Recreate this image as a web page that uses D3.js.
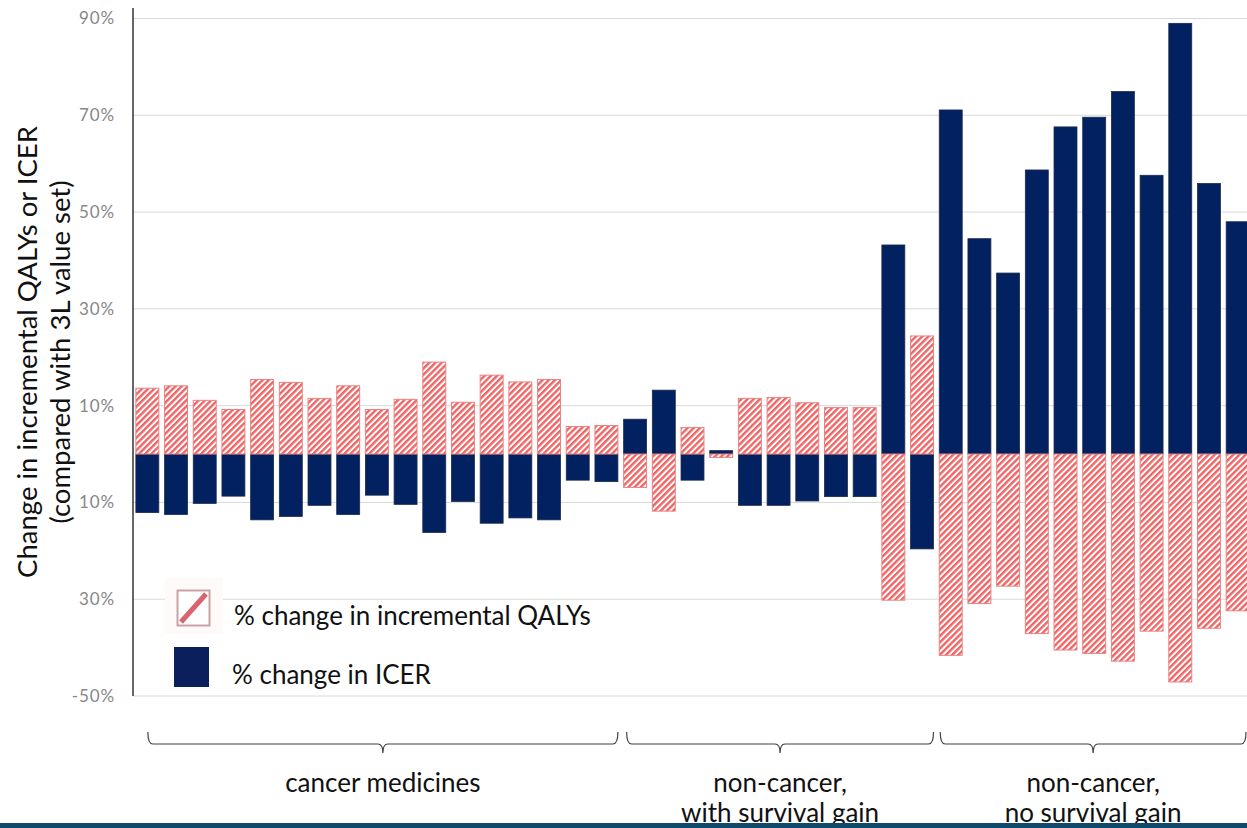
<!DOCTYPE html>
<html><head><meta charset="utf-8">
<script src="https://cdn.jsdelivr.net/npm/d3@7"></script>
<style>html,body{margin:0;padding:0;background:#fff;overflow:hidden;} svg{display:block;}</style>
</head><body>
<svg id="chart" width="1247" height="828"></svg>
<script>
// ---------- data ----------
const medicines = ["m01","m02","m03","m04","m05","m06","m07","m08","m09","m10","m11","m12","m13","m14","m15","m16","m17",
  "m18","m19","m20","m21","m22","m23","m24","m25","m26","m27","m28",
  "m29","m30","m31","m32","m33","m34","m35","m36","m37","m38","m39"];
const qalyChange = [13.6,14.1,11.1,9.2,15.4,14.8,11.5,14.1,9.2,11.3,19.0,10.7,16.3,14.9,15.4,5.7,5.9,
  -6.9,-11.8,5.5,-0.7,11.5,11.7,10.6,9.6,9.6,-30.2,24.4,
  -41.6,-30.9,-27.3,-37.1,-40.5,-41.2,-42.8,-36.6,-47.1,-36.0,-32.4];
const icerChange = [-12.1,-12.5,-10.2,-8.7,-13.6,-12.9,-10.6,-12.5,-8.5,-10.4,-16.2,-9.8,-14.3,-13.2,-13.6,-5.4,-5.7,
  7.2,13.2,-5.4,0.7,-10.6,-10.6,-9.7,-8.8,-8.8,43.2,-19.6,
  71.1,44.5,37.4,58.7,67.6,69.6,74.9,57.6,89.0,55.9,48.0];
const groupNames = [["cancer medicines"],["non-cancer,","with survival gain"],["non-cancer,","no survival gain"]];
const groupFirst = ["m01","m18","m29"];
const groupLast  = ["m17","m28","m39"];
const yTicks = [90,70,50,30,10,-10,-30,-50];
const yTickLabels = ["90%","70%","50%","30%","10%","10%","30%","-50%"];
const legendLabels = ["% change in incremental QALYs","% change in ICER"];
const yTitle = ["Change in incremental QALYs or ICER","(compared with 3L value set)"];

// ---------- layout ----------
const W = 1247, H = 828;
const left = 133, plotTop = 18.5, plotBottom = 696;
const navy = "#022160", salmon = "#ef6464";
const svg = d3.select("#chart");
const fontFam = "Lato, 'Open Sans', sans-serif";

const x = d3.scaleBand().domain(medicines).range([left, 1252]).paddingInner(0.2).paddingOuter(0.1);
const y = d3.scaleLinear().domain([-50, 90]).range([plotBottom, plotTop]);

// pattern
const defs = svg.append("defs");
const P = 4.4;
const pat = defs.append("pattern").attr("id","hatch").attr("patternUnits","userSpaceOnUse")
  .attr("width",P).attr("height",P).attr("patternTransform","rotate(45)");
pat.append("rect").attr("width",P).attr("height",P).attr("fill","#fff");
pat.append("line").attr("x1",1.2).attr("y1",0).attr("x2",1.2).attr("y2",P)
  .attr("stroke",salmon).attr("stroke-width",2.4);

// gridlines
svg.append("g").selectAll("line").data(yTicks).join("line")
  .attr("x1",left).attr("x2",W).attr("y1",d=>y(d)).attr("y2",d=>y(d))
  .attr("stroke","#d9d9d9").attr("stroke-width",1);

// y axis labels
const yAxis = d3.axisLeft(y).tickValues(yTicks).tickSize(0).tickPadding(18)
  .tickFormat((d,i)=>yTickLabels[i]);
const ga = svg.append("g").attr("transform",`translate(${left},0)`).call(yAxis);
ga.select(".domain").remove();
ga.selectAll("text").attr("fill","#878787").attr("font-size",17).attr("letter-spacing",0.9)
  .attr("font-family",fontFam);

// bars
const rows = medicines.map((m,i)=>({m, q:qalyChange[i], c:icerChange[i]}));
const gb = svg.append("g");
gb.selectAll("rect.icer").data(rows).join("rect").attr("class","icer")
  .attr("x",d=>x(d.m)).attr("width",x.bandwidth())
  .attr("y",d=>y(Math.max(0,d.c))).attr("height",d=>Math.abs(y(d.c)-y(0)))
  .attr("fill",navy).attr("stroke","#1c2a4e").attr("stroke-width",0.8);
gb.selectAll("rect.qaly").data(rows).join("rect").attr("class","qaly")
  .attr("x",d=>x(d.m)).attr("width",x.bandwidth())
  .attr("y",d=>y(Math.max(0,d.q))).attr("height",d=>Math.abs(y(d.q)-y(0)))
  .attr("fill","url(#hatch)").attr("stroke","#e98383").attr("stroke-width",1);

// axis line
svg.append("line").attr("x1",left).attr("x2",left).attr("y1",8).attr("y2",plotBottom)
  .attr("stroke","#000").attr("stroke-width",1.2);

// y title
const gt = svg.append("g").attr("transform","translate(0,352) rotate(-90)");
gt.selectAll("text").data(yTitle).join("text")
  .attr("x",0).attr("y",(d,i)=>37+i*33).attr("text-anchor","middle")
  .attr("font-family",fontFam).attr("font-size",27.5).attr("fill","#111").text(d=>d);

// legend
const lg = svg.append("g");
lg.append("rect").attr("x",165).attr("y",578).attr("width",58).attr("height",56).attr("fill","#fefafa");
lg.append("rect").attr("x",177.5).attr("y",590.5).attr("width",32).attr("height",35)
  .attr("fill","#fff").attr("stroke","#c9a2a6").attr("stroke-width",2);
lg.append("line").attr("x1",181).attr("y1",622).attr("x2",206).attr("y2",594)
  .attr("stroke","#d9646e").attr("stroke-width",5);
lg.append("rect").attr("x",174).attr("y",647).attr("width",35).attr("height",40).attr("fill","#0b1f5c");
lg.selectAll("text").data(legendLabels).join("text")
  .attr("x",(d,i)=>i?232:234).attr("y",(d,i)=>i?684:625)
  .attr("font-family",fontFam).attr("font-size",26).attr("fill","#111").text(d=>d);

// braces + group labels
const braceY = 744;
function brace(x0, x1){
  const cx = (x0+x1)/2;
  return `M${x0},${braceY-12} Q${x0},${braceY} ${x0+5},${braceY} L${cx-5},${braceY} Q${cx},${braceY} ${cx},${braceY+9} Q${cx},${braceY} ${cx+5},${braceY} L${x1-5},${braceY} Q${x1},${braceY} ${x1},${braceY-12}`;
}
const braceInset = [12, 3, 1];
const groups = groupNames.map((n,i)=>({n, x0:x(groupFirst[i])+braceInset[i], x1:Math.min(W-1, x(groupLast[i])+x.bandwidth())}));
const gg = svg.append("g");
gg.selectAll("path").data(groups).join("path").attr("d",d=>brace(d.x0,d.x1))
  .attr("fill","none").attr("stroke","#404040").attr("stroke-width",1.2);
groups.forEach((g,i)=>{
  const cx = (g.x0+g.x1)/2;
  gg.append("text").attr("text-anchor","middle").attr("font-family",fontFam)
    .attr("font-size",26).attr("fill","#111")
    .selectAll("tspan").data(g.n).join("tspan").attr("x",cx).attr("y",(d,j)=>792+j*30).text(d=>d);
});

// bottom band
svg.append("rect").attr("x",0).attr("y",823).attr("width",W).attr("height",5).attr("fill","#0e4a6e");
</script>
</body></html>
